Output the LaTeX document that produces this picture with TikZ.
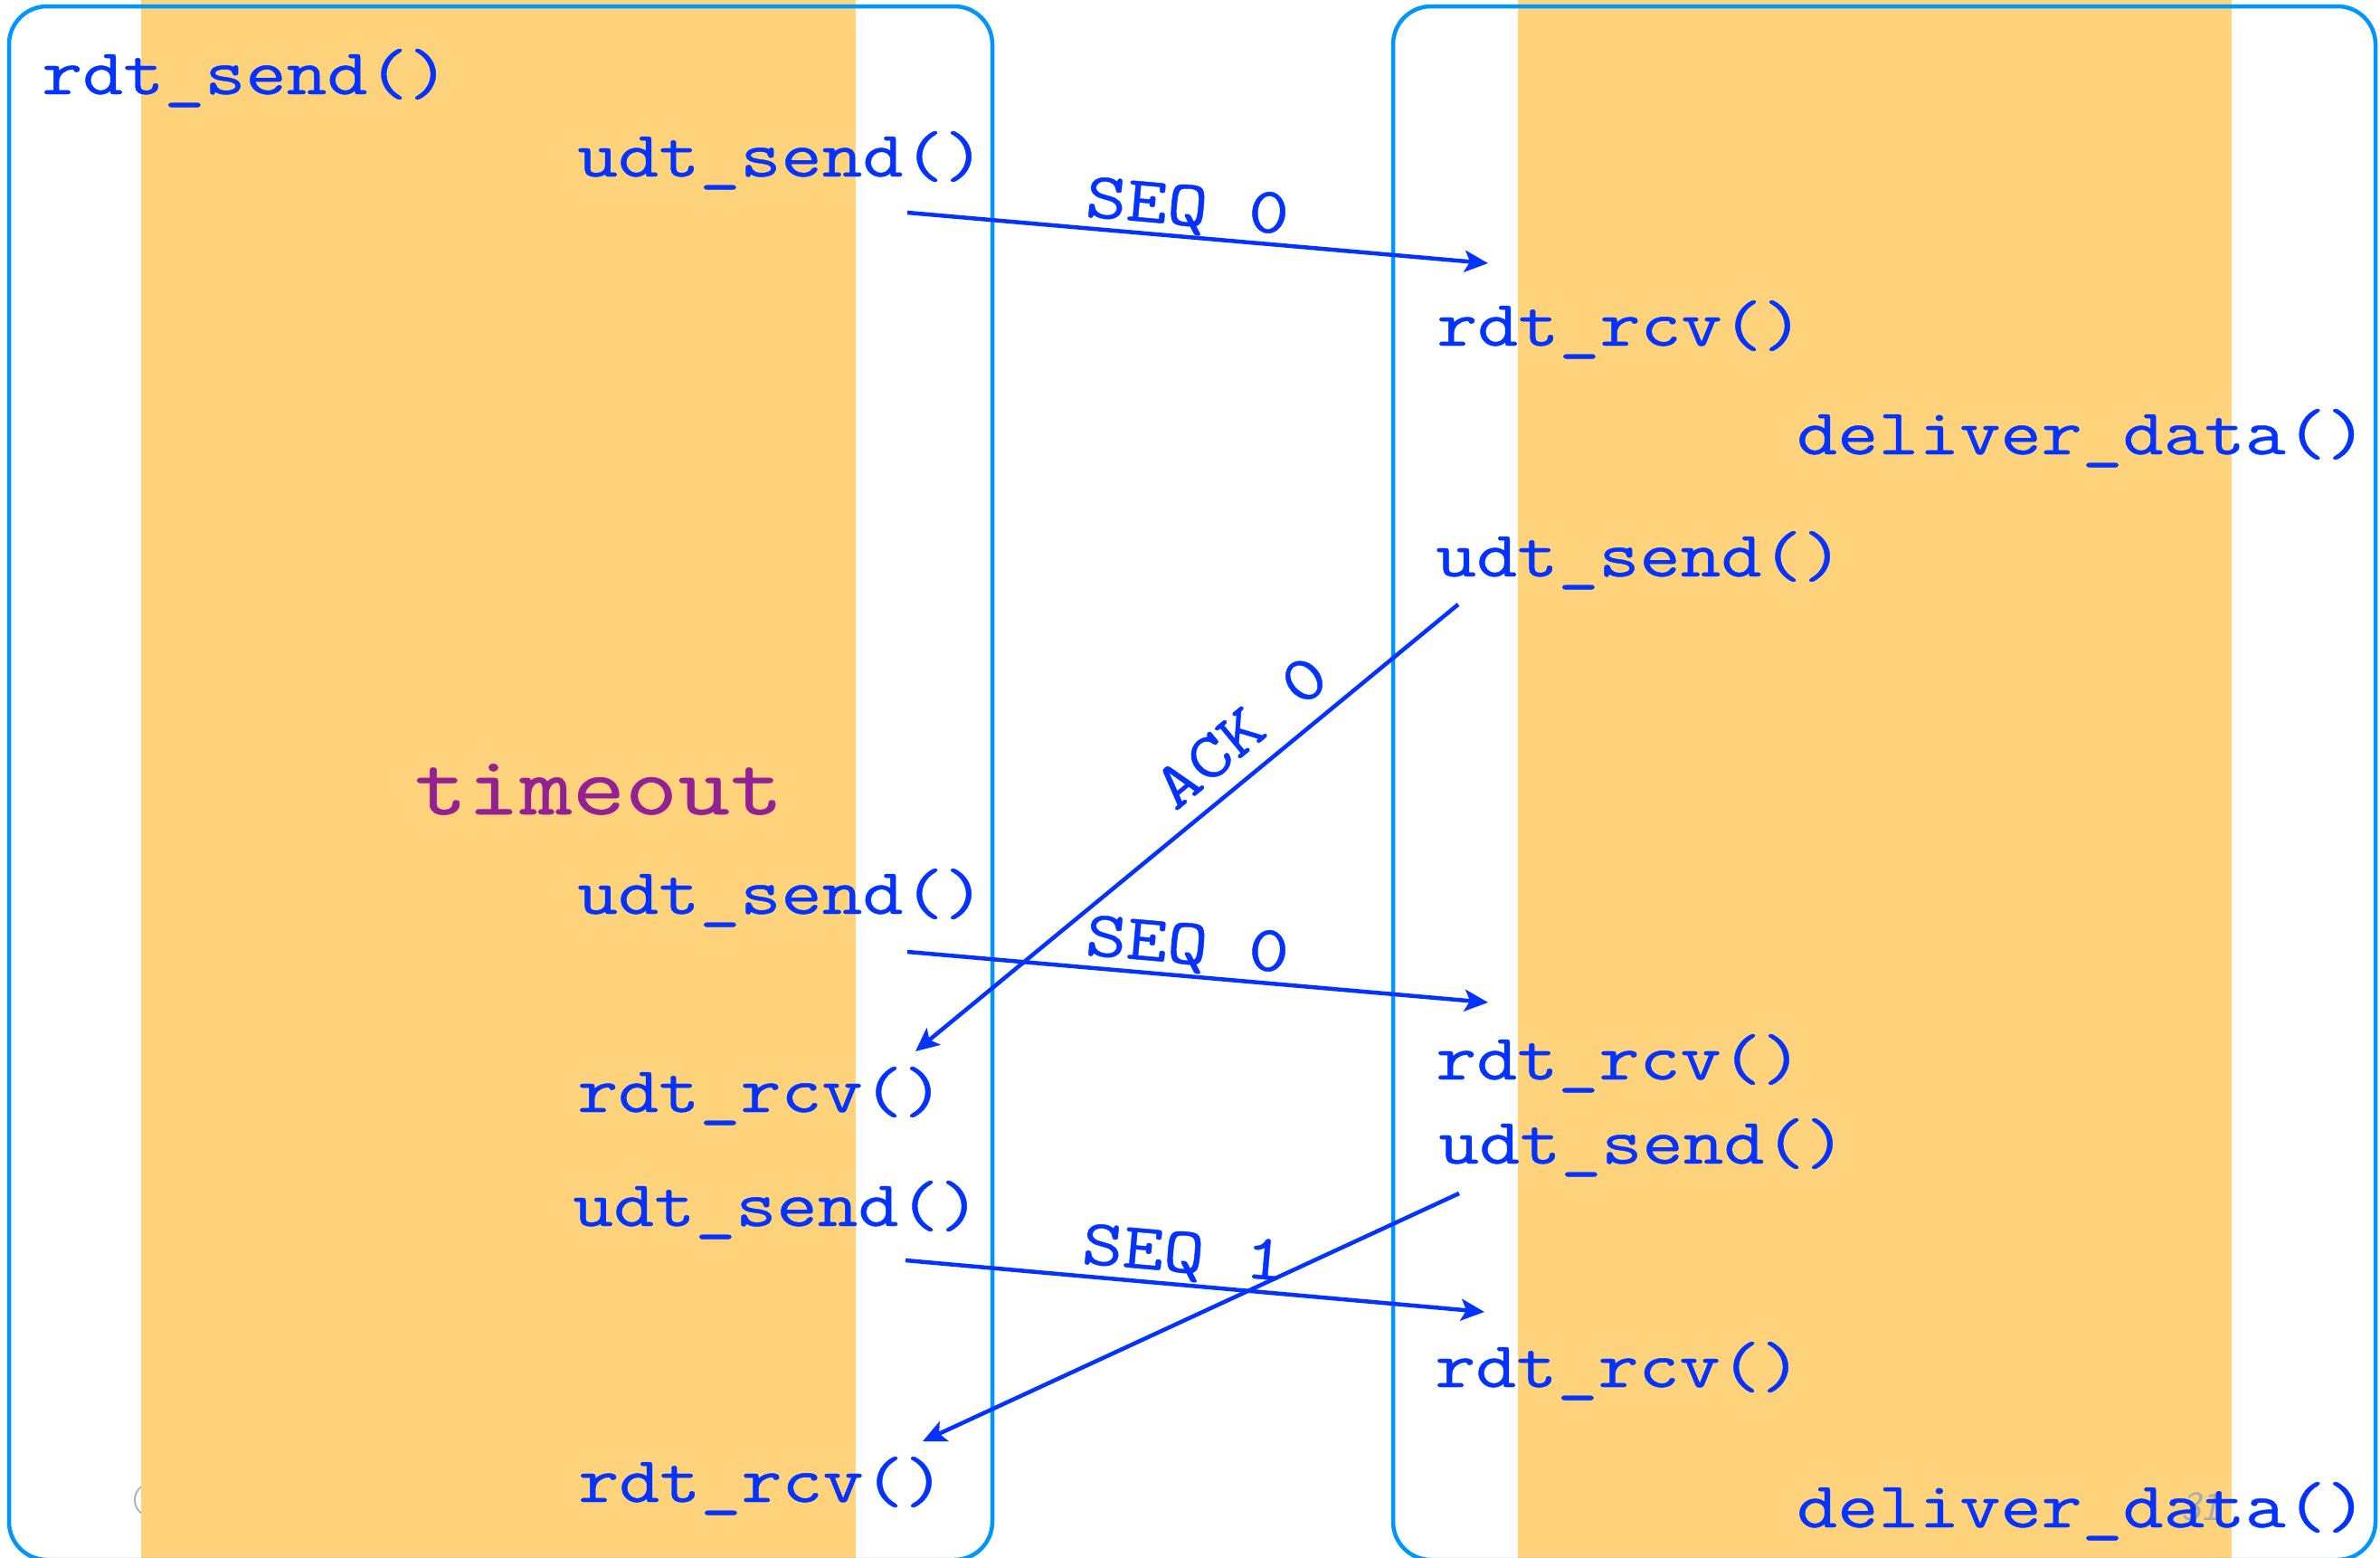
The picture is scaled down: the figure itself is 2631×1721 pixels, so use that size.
\documentclass[tikz,border=0pt]{standalone}
\usepackage{fontspec}
\newfontfamily\cour{Latin Modern Mono}[FakeStretch=1.215,FakeBold=0.6]
\usetikzlibrary{arrows.meta}
\definecolor{tblue}{RGB}{4,51,255}
\definecolor{tpurple}{RGB}{148,33,147}
\definecolor{band}{RGB}{254,211,123}
\definecolor{boxblue}{RGB}{0,150,255}
\definecolor{pgnum}{RGB}{172,172,172}
\tikzset{
  code/.style={font=\cour\fontsize{72}{80}\selectfont, text=tblue, inner sep=0pt, anchor=base west},
  tmo/.style={font=\cour\fontsize{93}{100}\selectfont, text=tpurple, inner sep=0pt, anchor=base west},
  lbl/.style={font=\cour\fontsize{72}{80}\selectfont, text=tblue, inner sep=0pt, anchor=base},
  msg/.style={draw=tblue, line width=4.5pt, -{Stealth[length=26pt,width=24pt,inset=6pt]}},
  side/.style={draw=boxblue, line width=4.5pt, rounded corners=42pt},
  bandfill/.style={fill=band, draw=none}
}
\begin{document}
\begin{tikzpicture}[x=1pt,y=-1pt]
\clip (0,0) rectangle (2631,1721);
\fill[white] (0,0) rectangle (2631,1721);
% faint copyright mark mostly hidden by the band
\node[font=\fontsize{56}{60}\selectfont, text=pgnum, inner sep=0pt, anchor=west] (copy) at (148,1658) {\textcopyright};
% bands
\path[bandfill] (156,-10) rectangle (946,1740);
\path[bandfill] (1678,-10) rectangle (2467,1740);
% boxes
\path[side] (10,7) rectangle (1097,1724);
\path[side] (1540,7) rectangle (2626,1724);
% page number
\node[font=\sffamily\itshape\fontsize{46}{50}\selectfont, text=pgnum, inner sep=0pt, anchor=base west] (pg) at (2411,1680) {31};

% sender side
\node[code] (s1) at (46,104) {rdt\_send()};
\node[code] (s2) at (638,195) {udt\_send()};
\node[tmo]  (to) at (458,900) {timeout};
\node[code] (s3) at (638,1010) {udt\_send()};
\node[code] (s4) at (638,1229) {rdt\_rcv()};
\node[code] (s5) at (633,1355) {udt\_send()};
\node[code] (s6) at (639,1660) {rdt\_rcv()};

% receiver side
\node[code] (r1) at (1588,382) {rdt\_rcv()};
\node[code] (r2) at (1986,502) {deliver\_data()};
\node[code] (r3) at (1587,637) {udt\_send()};
\node[code] (r4) at (1587,1193) {rdt\_rcv()};
\node[code] (r5) at (1590,1286) {udt\_send()};
\node[code] (r6) at (1586,1533) {rdt\_rcv()};
\node[code] (r7) at (1986,1688) {deliver\_data()};

% message end points
\coordinate (a1s) at (1003,235);
\coordinate (a1e) at (1645,291);
\coordinate (a2s) at (1612,668);
\coordinate (a2e) at (1012,1162);
\coordinate (a3s) at (1003,1052);
\coordinate (a3e) at (1645,1108);
\coordinate (a4s) at (1001,1393);
\coordinate (a4e) at (1641,1450);
\coordinate (a5s) at (1613,1319);
\coordinate (a5e) at (1020,1593);

\draw[msg] (a1s) -- (a1e);
\draw[msg] (a2s) -- (a2e);
\draw[msg] (a3s) -- (a3e);
\draw[msg] (a4s) -- (a4e);
\draw[msg] (a5s) -- (a5e);

% labels
\node[lbl, rotate=-5] (l1) at (1311,249) {SEQ 0};
\node[lbl, rotate=39.5] (l2) at (1386,826) {ACK 0};
\node[lbl, rotate=-5] (l3) at (1311,1065) {SEQ 0};
\node[lbl, rotate=-5] (l4) at (1307,1406) {SEQ 1};
\end{tikzpicture}
\end{document}
